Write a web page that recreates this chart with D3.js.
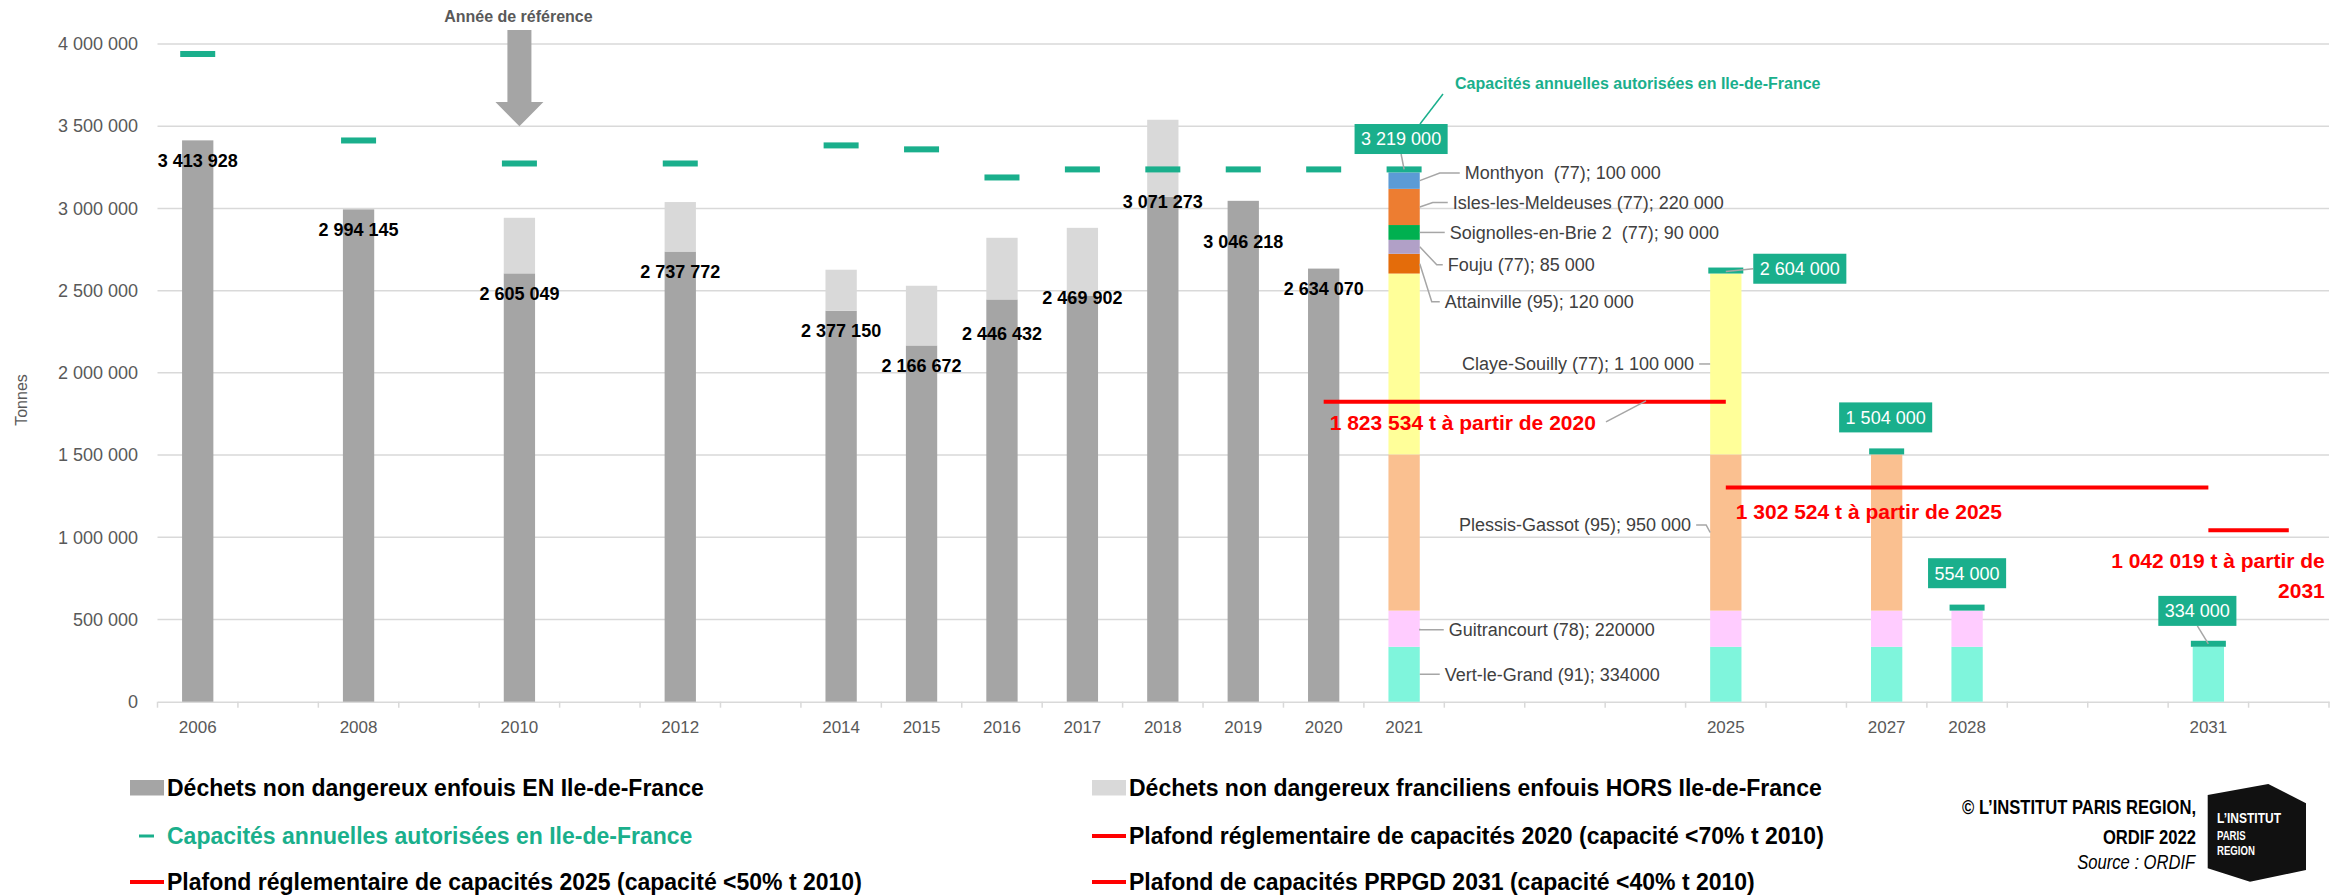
<!DOCTYPE html>
<html>
<head>
<meta charset="utf-8">
<script src="https://cdn.jsdelivr.net/npm/d3@7"></script>
<style>
  body { margin: 0; background: #fff; }
  svg { display: block; font-family: "Liberation Sans", Arial, sans-serif; }
</style>
</head>
<body>
<div id="chart"></div>
<script>
// ---- data ----
const years = d3.range(2006, 2033);
const shownYears = [2006, 2008, 2010, 2012, 2014, 2015, 2016, 2017, 2018, 2019, 2020, 2021, 2025, 2027, 2028, 2031];
const yTicks = [0, 500000, 1000000, 1500000, 2000000, 2500000, 3000000, 3500000, 4000000];

const histYears = [2006, 2008, 2010, 2012, 2014, 2015, 2016, 2017, 2018, 2019, 2020];
const enIdf = [3413928, 2994145, 2605049, 2737772, 2377150, 2166672, 2446432, 2469902, 3071273, 3046218, 2634070];
const horsIdf = [0, 0, 338000, 301000, 250000, 363000, 375000, 412000, 468000, 0, 0];

const capYears = [2006, 2008, 2010, 2012, 2014, 2015, 2016, 2017, 2018, 2019, 2020, 2021, 2025, 2027, 2028, 2031];
const capValues = [3921000, 3395000, 3255000, 3255000, 3365000, 3341000, 3170000, 3219000, 3219000, 3219000, 3219000, 3219000, 2604000, 1504000, 554000, 334000];

const futureYears = [2021, 2025, 2027, 2028, 2031];
const sites = ['Vert-le-Grand', 'Guitrancourt', 'Plessis-Gassot', 'Claye-Souilly', 'Attainville', 'Fouju', 'Soignolles-en-Brie 2', 'Isles-les-Meldeuses', 'Monthyon'];
const siteCap = [334000, 220000, 950000, 1100000, 120000, 85000, 90000, 220000, 100000];
const siteLastYear = [2031, 2028, 2027, 2025, 2021, 2021, 2021, 2021, 2021];
const siteLabels = ['Vert-le-Grand (91); 334000', 'Guitrancourt (78); 220000', 'Plessis-Gassot (95); 950 000',
  'Claye-Souilly (77); 1 100 000', 'Attainville (95); 120 000', 'Fouju (77); 85 000',
  'Soignolles-en-Brie 2  (77); 90 000', 'Isles-les-Meldeuses (77); 220 000', 'Monthyon  (77); 100 000'];

const plafondValues = [1823534, 1302524, 1042019];
const plafondFrom = [2020, 2025, 2031];
const plafondTo = [2025, 2031, 2032];
const plafondLabels = [['1 823 534 t à partir de 2020'], ['1 302 524 t à partir de 2025'], ['1 042 019 t à partir de', '2031']];

const legendItems = [
  'Déchets non dangereux enfouis EN Ile-de-France',
  'Déchets non dangereux franciliens enfouis HORS Ile-de-France',
  'Capacités annuelles autorisées en Ile-de-France',
  'Plafond réglementaire de capacités 2020 (capacité <70% t 2010)',
  'Plafond réglementaire de capacités 2025 (capacité <50% t 2010)',
  'Plafond de capacités PRPGD 2031 (capacité <40% t 2010)'
];

// ---- styles / layout ----
const siteColors = ['#7ff5dc', '#ffccff', '#fac090', '#ffff99', '#e46c0a', '#b1a0c7', '#00b050', '#ed7d31', '#5b9bd5'];
const dark = '#a5a5a5', light = '#d9d9d9', teal = '#1aaf8c', red = '#ff0000', axisGrey = '#595959';
const labelDy = [20, 20, 20, 20, 20, 20, 34, 2, 5, 41, 20];
// per site label: bar it hangs on, side, vertical shift, gap, elbow
const siteLabelLayout = [
  {yr: 2021, side: 1, dy: 0, gap: 25, elbow: 0},
  {yr: 2021, side: 1, dy: 1, gap: 29, elbow: 0},
  {yr: 2025, side: -1, dy: -7.6, gap: 19, elbow: 4},
  {yr: 2025, side: -1, dy: 0, gap: 16, elbow: 0},
  {yr: 2021, side: 1, dy: 38, gap: 25, elbow: 12},
  {yr: 2021, side: 1, dy: 18, gap: 28, elbow: 17},
  {yr: 2021, side: 1, dy: 0, gap: 30, elbow: 0},
  {yr: 2021, side: 1, dy: -4.5, gap: 33, elbow: 13},
  {yr: 2021, side: 1, dy: -7.6, gap: 45, elbow: 20}
];
const boxLayout = [
  {dx: -3, dy: -33.4, lead: 'bottom'},
  {dx: 74, dy: -4.8, lead: 'left'},
  {dx: -1, dy: -37, lead: null},
  {dx: 0, dy: -37.4, lead: null},
  {dx: -11, dy: -35.9, lead: 'bottom'}
];

const W = 2343, H = 895;
const fr = d3.formatLocale({decimal: ',', thousands: ' ', grouping: [3], currency: ['', ' €']});
const fmt = fr.format(',d');

const svg = d3.select('#chart').append('svg').attr('width', W).attr('height', H);

const x = d3.scaleBand().domain(years).range([157.5, 2329]);
const y = d3.scaleLinear().domain([0, 4000000]).range([701.7, 44]);
const barW = 31.3;
const cx = d => x(d) + x.bandwidth() / 2;

// gridlines
svg.append('g').selectAll('line').data(yTicks.slice(1)).join('line')
  .attr('x1', 157.5).attr('x2', 2329)
  .attr('y1', d => y(d)).attr('y2', d => y(d))
  .attr('stroke', '#d9d9d9').attr('stroke-width', 1.5);

// y axis
svg.append('g').attr('transform', 'translate(148,0)')
  .call(d3.axisLeft(y).tickValues(yTicks).tickFormat(fmt).tickSize(0).tickPadding(10))
  .attr('font-family', null).attr('font-size', 18)
  .call(g => g.select('.domain').remove())
  .selectAll('text').attr('fill', axisGrey);

svg.append('text')
  .attr('transform', 'translate(21,400) rotate(-90)')
  .attr('text-anchor', 'middle').attr('dy', '0.35em')
  .attr('font-size', 16).attr('fill', axisGrey)
  .text('Tonnes');

// x axis
svg.append('g').attr('transform', `translate(0,${y(0)})`)
  .call(d3.axisBottom(x).tickValues(shownYears).tickSize(0).tickPadding(19))
  .attr('font-family', null).attr('font-size', 17)
  .call(g => g.select('.domain').attr('stroke', '#d9d9d9').attr('stroke-width', 1.5))
  .selectAll('text').attr('fill', axisGrey);

svg.append('g').selectAll('line').data(d3.range(years.length + 1)).join('line')
  .attr('x1', i => x.range()[0] + i * x.step()).attr('x2', i => x.range()[0] + i * x.step())
  .attr('y1', y(0)).attr('y2', y(0) + 6)
  .attr('stroke', '#d9d9d9').attr('stroke-width', 1.5);

// historical bars
const hist = histYears.map((yr, i) => ({yr, en: enIdf[i], hors: horsIdf[i], dy: labelDy[i]}));
svg.append('g').selectAll('rect').data(hist).join('rect')
  .attr('x', d => cx(d.yr) - barW / 2).attr('width', barW)
  .attr('y', d => y(d.en)).attr('height', d => y(0) - y(d.en))
  .attr('fill', dark);
svg.append('g').selectAll('rect').data(hist.filter(d => d.hors > 0)).join('rect')
  .attr('x', d => cx(d.yr) - barW / 2).attr('width', barW)
  .attr('y', d => y(d.en + d.hors)).attr('height', d => y(d.en) - y(d.en + d.hors))
  .attr('fill', light);

// future capacities stacked by site
const rows = futureYears.map(yr => {
  const r = {yr};
  sites.forEach((s, i) => { r[s] = siteLastYear[i] >= yr ? siteCap[i] : 0; });
  return r;
});
const stacked = d3.stack().keys(sites)(rows);
svg.append('g').selectAll('g').data(stacked).join('g')
  .attr('fill', (d, i) => siteColors[i])
  .selectAll('rect').data(d => d.filter(p => p[1] > p[0])).join('rect')
  .attr('x', d => cx(d.data.yr) - barW / 2).attr('width', barW)
  .attr('y', d => y(d[1])).attr('height', d => y(d[0]) - y(d[1]));

// capacity dashes
svg.append('g').selectAll('rect').data(capYears.map((yr, i) => ({yr, v: capValues[i]}))).join('rect')
  .attr('x', d => cx(d.yr) - 17.5).attr('width', 35)
  .attr('y', d => y(d.v) - 6).attr('height', 6)
  .attr('fill', teal);

// plafond lines
const line = d3.line().x(d => cx(d[0])).y(d => y(d[1]));
svg.append('g').selectAll('path').data(plafondValues.map((v, i) => [[plafondFrom[i], v], [plafondTo[i], v]])).join('path')
  .attr('d', line).attr('stroke', red).attr('stroke-width', 4).attr('fill', 'none');

// bar value labels
svg.append('g').selectAll('text').data(hist).join('text')
  .attr('x', d => cx(d.yr)).attr('y', d => y(d.en) + d.dy).attr('dy', '0.35em')
  .attr('text-anchor', 'middle').attr('font-size', 18).attr('font-weight', 'bold').attr('fill', '#000')
  .text(d => fmt(d.en));

// site labels with leaders
const leaderG = svg.append('g').attr('stroke', '#a6a6a6').attr('stroke-width', 1.5).attr('fill', 'none');
const siteLab = svg.append('g').attr('font-size', 18).attr('fill', '#404040');
sites.forEach((s, i) => {
  const L = siteLabelLayout[i];
  const seg = stacked[i].find(p => p.data.yr === L.yr);
  const ym = y((seg[0] + seg[1]) / 2);
  const edge = cx(L.yr) + L.side * barW / 2;
  const ty = ym + L.dy;
  leaderG.append('polyline')
    .attr('points', [[edge, ym], [edge + L.side * L.elbow, ty], [edge + L.side * (L.gap - 5), ty]].join(' '));
  siteLab.append('text')
    .attr('x', edge + L.side * L.gap).attr('y', ty).attr('dy', '0.35em')
    .attr('text-anchor', L.side > 0 ? 'start' : 'end')
    .attr('xml:space', 'preserve')
    .text(siteLabels[i]);
});

// capacity value boxes
futureYears.forEach((yr, i) => {
  const v = capValues[capYears.indexOf(yr)];
  const B = boxLayout[i];
  const bx = cx(yr) + B.dx, by = y(v) + B.dy;
  const g = svg.append('g');
  const rect = g.append('rect').attr('fill', teal);
  const t = g.append('text').attr('x', bx).attr('y', by).attr('dy', '0.35em')
    .attr('text-anchor', 'middle').attr('font-size', 18).attr('fill', '#fff').text(fmt(v));
  const w = t.node().getComputedTextLength() + 13;
  rect.attr('x', bx - w / 2).attr('y', by - 15).attr('width', w).attr('height', 30);
  if (B.lead === 'bottom') {
    g.insert('line', 'rect').attr('x1', bx).attr('y1', by + 15).attr('x2', cx(yr)).attr('y2', y(v) - 3)
      .attr('stroke', '#a6a6a6').attr('stroke-width', 1.5);
  } else if (B.lead === 'left') {
    g.insert('line', 'rect').attr('x1', bx - w / 2).attr('y1', by).attr('x2', cx(yr)).attr('y2', y(v) - 2)
      .attr('stroke', '#a6a6a6').attr('stroke-width', 1.5);
  }
});

// capacity series callout
svg.append('line').attr('x1', 1420).attr('y1', 124).attr('x2', 1443).attr('y2', 94)
  .attr('stroke', teal).attr('stroke-width', 1.5);
svg.append('text').attr('x', 1455).attr('y', 83).attr('dy', '0.35em')
  .attr('font-size', 16).attr('font-weight', 'bold').attr('fill', teal)
  .text('Capacités annuelles autorisées en Ile-de-France');

// plafond labels
const plafLab = svg.append('g').attr('font-size', 21).attr('font-weight', 'bold').attr('fill', red);
plafLab.append('text').attr('x', cx(2020) + 6).attr('y', y(plafondValues[0]) + 21).attr('dy', '0.35em')
  .text(plafondLabels[0][0]);
svg.append('line').attr('x1', 1606).attr('y1', y(plafondValues[0]) + 20).attr('x2', 1646).attr('y2', y(plafondValues[0]) - 1)
  .attr('stroke', '#a6a6a6').attr('stroke-width', 1.5);
plafLab.append('text').attr('x', cx(2025) + 10).attr('y', y(plafondValues[1]) + 24).attr('dy', '0.35em')
  .text(plafondLabels[1][0]);
plafondLabels[2].forEach((s, k) => {
  plafLab.append('text').attr('x', cx(2032) + 36).attr('y', y(plafondValues[2]) + 30.6 + k * 29.7).attr('dy', '0.35em')
    .attr('text-anchor', 'end').text(s);
});

// reference year arrow
const ax = cx(2010);
svg.append('polygon')
  .attr('points', [[ax - 12, 30], [ax + 12, 30], [ax + 12, 102], [ax + 24, 102], [ax, y(3500000)], [ax - 24, 102], [ax - 12, 102]].join(' '))
  .attr('fill', dark);
svg.append('text').attr('x', ax - 1).attr('y', 16).attr('dy', '0.35em').attr('text-anchor', 'middle')
  .attr('font-size', 16).attr('font-weight', 'bold').attr('fill', axisGrey)
  .text('Année de référence');

// legend
const legX = [130, 1092], legY = [787.5, 836, 882];
const leg = svg.append('g').attr('font-size', 23).attr('font-weight', 'bold');
legendItems.forEach((s, i) => {
  const lx = legX[i % 2], ly = legY[Math.floor(i / 2)];
  if (i < 2) {
    leg.append('rect').attr('x', lx).attr('y', ly - 7.5).attr('width', 34).attr('height', 15.5).attr('fill', i === 0 ? dark : light);
  } else if (i === 2) {
    leg.append('rect').attr('x', lx + 9).attr('y', ly - 1.5).attr('width', 15).attr('height', 3).attr('fill', teal);
  } else {
    leg.append('line').attr('x1', lx).attr('x2', lx + 34).attr('y1', ly).attr('y2', ly).attr('stroke', red).attr('stroke-width', 4);
  }
  leg.append('text').attr('x', lx + 37).attr('y', ly).attr('dy', '0.35em')
    .attr('fill', i === 2 ? teal : '#000').text(s);
});

// credits, horizontally condensed like the original type
const cred = svg.append('g').attr('transform', 'translate(2196,0) scale(0.83,1)')
  .attr('font-size', 20).attr('text-anchor', 'end');
cred.append('text').attr('y', 806.7).attr('dy', '0.35em').attr('font-weight', 'bold').text('© L’INSTITUT PARIS REGION,');
cred.append('text').attr('y', 836.7).attr('dy', '0.35em').attr('font-weight', 'bold').text('ORDIF 2022');
cred.append('text').attr('x', -1).attr('y', 861.7).attr('dy', '0.35em').attr('font-style', 'italic').text('Source : ORDIF');

// logo
svg.append('polygon')
  .attr('points', [[2207.7, 795], [2268.3, 784], [2306, 803.3], [2306, 870], [2250, 881.7], [2207.7, 868.3]].join(' '))
  .attr('fill', '#111');
const logo = svg.append('g').attr('transform', 'translate(2217,0) scale(0.8,1)')
  .attr('font-weight', 'bold').attr('fill', '#fff');
logo.append('text').attr('y', 817.5).attr('dy', '0.35em').attr('font-size', 15).text('L’INSTITUT');
logo.append('text').attr('y', 836).attr('dy', '0.35em').attr('font-size', 12).text('PARIS');
logo.append('text').attr('y', 851).attr('dy', '0.35em').attr('font-size', 12).text('REGION');
</script>
</body>
</html>
